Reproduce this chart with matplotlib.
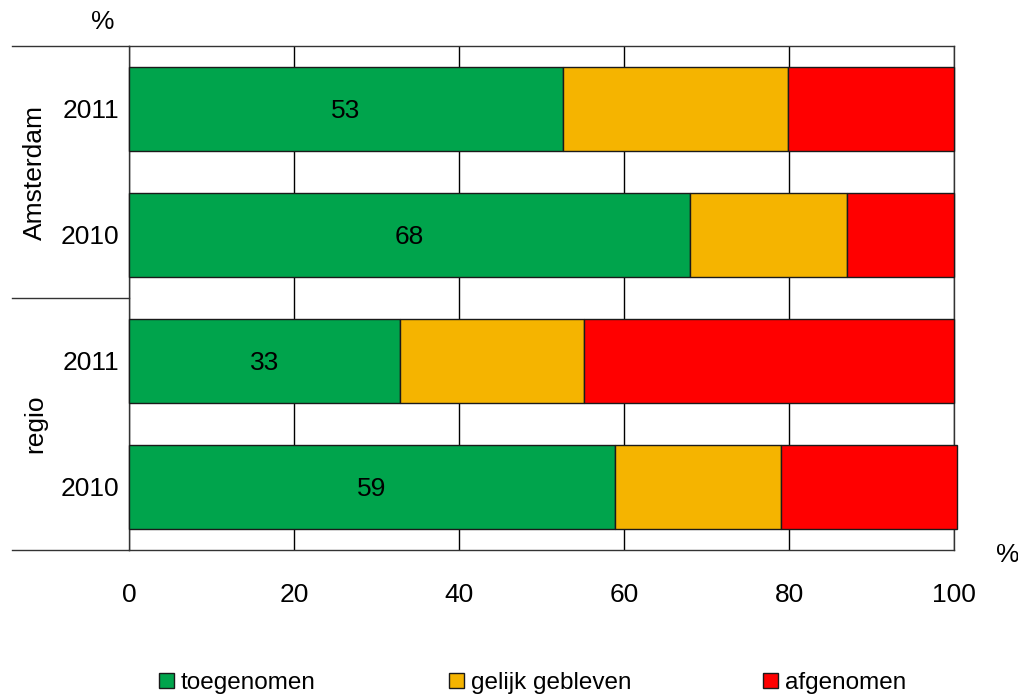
import matplotlib

matplotlib.use("Agg")
import matplotlib.pyplot as plt
from matplotlib.patches import Patch
from matplotlib.transforms import blended_transform_factory

plt.rcParams["font.family"] = ["Liberation Sans", "DejaVu Sans"]

# data, top to bottom
groups = ["Amsterdam", "regio"]
years = ["2011", "2010", "2011", "2010"]
toegenomen = [52.6, 68.0, 32.8, 58.9]
gelijk = [27.3, 19.0, 22.4, 20.1]
afgenomen = [20.1, 13.0, 44.8, 21.4]
series_names = ["toegenomen", "gelijk gebleven", "afgenomen"]
colours = ["#00A44C", "#F5B400", "#FF0000"]
xticks = [0, 20, 40, 60, 80, 100]

FS = 19

fig = plt.figure(figsize=(10.18, 6.95), dpi=100)
ax = fig.add_axes([129 / 1018, 1 - 550 / 695, 825 / 1018, 504 / 695])

ypos = list(range(len(years)))
left = [0] * len(years)
for vals, colour, name in zip([toegenomen, gelijk, afgenomen], colours, series_names):
    bars = ax.barh(ypos, vals, left=left, height=0.67, color=colour, edgecolor="#1a1a1a",
                   linewidth=1, label=name, zorder=3)
    for b in bars:
        b.set_clip_on(False)
    left = [l + v for l, v in zip(left, vals)]

# value labels in the green segments
for y, v in zip(ypos, toegenomen):
    ax.text(v / 2, y, f"{v:.0f}", ha="center", va="center_baseline", fontsize=FS, zorder=4)

ax.set_xlim(0, 100)
ax.set_ylim(3.5, -0.5)
ax.set_xticks(xticks)
ax.set_yticks(ypos)
ax.set_yticklabels(years)
ax.tick_params(axis="x", length=0, pad=24, labelsize=FS)
ax.tick_params(axis="y", length=0, pad=7, labelsize=FS)
ax.grid(axis="x", color="black", linewidth=1, zorder=0)
for s in ax.spines.values():
    s.set_color("#333333")
    s.set_linewidth(1)

# group separators and labels left of the axis
trans = blended_transform_factory(ax.transAxes, ax.transData)
for yb in [-0.5, 1.5, 3.5]:
    ax.plot([-117 / 825, 0], [yb, yb], color="#333333", lw=1, transform=trans, clip_on=False)
for g, yc in zip(groups, [0.5, 2.5]):
    ax.text(-94 / 825, yc, g, rotation=90, ha="center", va="center", fontsize=FS, transform=trans)

fig.text(103 / 1018, 1 - 22 / 695, "%", ha="center", va="center", fontsize=FS)
fig.text(1008 / 1018, 1 - 555 / 695, "%", ha="center", va="center", fontsize=FS)

# legend entries placed one by one along the bottom
for c, name, lx in zip(colours, series_names, [159, 449, 763]):
    h = Patch(facecolor=c, edgecolor="#1a1a1a", linewidth=1)
    fig.legend([h], [name], loc="center left", bbox_to_anchor=(lx / 1018, 1 - 683 / 695),
               frameon=False, fontsize=17.5, handlelength=0.6, handleheight=0.6,
               handletextpad=0.29, borderpad=0, borderaxespad=0)

fig.savefig("out.png", dpi=100)
